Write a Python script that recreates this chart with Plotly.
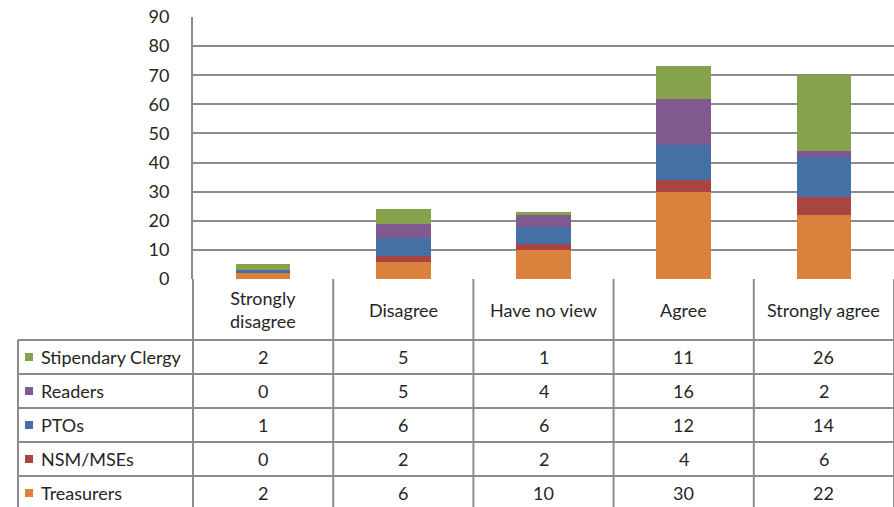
import plotly.graph_objects as go

categories = ["Strongly disagree", "Disagree", "Have no view", "Agree", "Strongly agree"]
header_labels = ["Strongly<br>disagree", "Disagree", "Have no view", "Agree", "Strongly agree"]
series_names = ["Treasurers", "NSM/MSEs", "PTOs", "Readers", "Stipendary Clergy"]
treasurers = [2, 6, 10, 30, 22]
nsm_mses = [0, 2, 2, 4, 6]
ptos = [1, 6, 6, 12, 14]
readers = [0, 5, 4, 16, 2]
stipendary = [2, 5, 1, 11, 26]
y_ticks = [0, 10, 20, 30, 40, 50, 60, 70, 80, 90]

series_values = [treasurers, nsm_mses, ptos, readers, stipendary]
colors = ["#D9813D", "#A94442", "#4470A5", "#805A8F", "#86A34C"]

W, H = 894, 507
X0 = 193          # plot left (px)
Y_TOP = 17        # value 90 (px)
Y_BOT = 279       # value 0 (px)
HEADER_BOTTOM = 340
ROW_H = 34
LABEL_LEFT = 18
GRID = "#8C8C8C"
FONT = "Lato"
FS = 18
TXT = "#262626"

fig = go.Figure()
for name, vals, col in zip(series_names, series_values, colors):
    fig.add_trace(go.Bar(x=categories, y=vals, name=name, marker=dict(color=col, line=dict(width=0)),
                         xaxis="x", yaxis="y"))

col_w = (W - X0) / len(categories)
shapes = []
annotations = []

def L(x0, y0, x1, y1):
    shapes.append(dict(type="line", xref="x2", yref="y2", x0=x0, y0=y0, x1=x1, y1=y1,
                       line=dict(color=GRID, width=2), layer="above"))

n_rows = len(series_names)
table_bottom = HEADER_BOTTOM + ROW_H * n_rows
for i in range(len(categories) + 1):
    L(X0 + i * col_w, Y_BOT, X0 + i * col_w, table_bottom)
L(LABEL_LEFT, HEADER_BOTTOM, LABEL_LEFT, table_bottom)
for r in range(n_rows + 1):
    y = HEADER_BOTTOM + r * ROW_H
    L(LABEL_LEFT, y, W, y)

for i, lab in enumerate(header_labels):
    annotations.append(dict(xref="x2", yref="y2", x=X0 + (i + 0.5) * col_w, y=(Y_BOT + HEADER_BOTTOM) / 2,
                            text=lab, showarrow=False, font=dict(family=FONT, size=FS, color=TXT),
                            xanchor="center", yanchor="middle"))

for r, idx in enumerate(reversed(range(n_rows))):
    yc = HEADER_BOTTOM + (r + 0.5) * ROW_H
    shapes.append(dict(type="rect", xref="x2", yref="y2", x0=25, x1=33, y0=yc - 4, y1=yc + 4,
                       fillcolor=colors[idx], line=dict(width=0)))
    annotations.append(dict(xref="x2", yref="y2", x=39, y=yc, text=series_names[idx], showarrow=False,
                            font=dict(family=FONT, size=FS, color=TXT), xanchor="left", yanchor="middle"))
    for i, v in enumerate(series_values[idx]):
        annotations.append(dict(xref="x2", yref="y2", x=X0 + (i + 0.5) * col_w, y=yc, text=str(v),
                                showarrow=False, font=dict(family=FONT, size=FS, color=TXT),
                                xanchor="center", yanchor="middle"))

fig.update_layout(
    width=W, height=H, margin=dict(l=0, r=0, t=0, b=0, pad=0, autoexpand=False),
    paper_bgcolor="white", plot_bgcolor="rgba(0,0,0,0)",
    barmode="stack", bargap=0.61, showlegend=False,
    xaxis=dict(domain=[X0 / W, 1], range=[-0.5, 4.5], showticklabels=False, showgrid=False,
               zeroline=False, showline=False, anchor="y", fixedrange=True, automargin=False),
    yaxis=dict(domain=[(H - Y_BOT) / H, (H - Y_TOP) / H], range=[0, 90], tickvals=y_ticks,
               showgrid=True, gridcolor=GRID, gridwidth=2, zeroline=False,
               showline=True, linecolor=GRID, linewidth=2, ticks="", ticklabelstandoff=18,
               tickfont=dict(family=FONT, size=FS, color=TXT), anchor="x", fixedrange=True,
               automargin=False),
    xaxis2=dict(domain=[0, 1], range=[0, W], visible=False, anchor="y2", fixedrange=True,
                automargin=False),
    yaxis2=dict(domain=[0, 1], range=[H, 0], visible=False, anchor="x2", fixedrange=True,
                automargin=False),
    shapes=shapes, annotations=annotations,
)
fig.write_html("out.html", config={"displayModeBar": False},
               post_script="document.body.style.margin='0';")
